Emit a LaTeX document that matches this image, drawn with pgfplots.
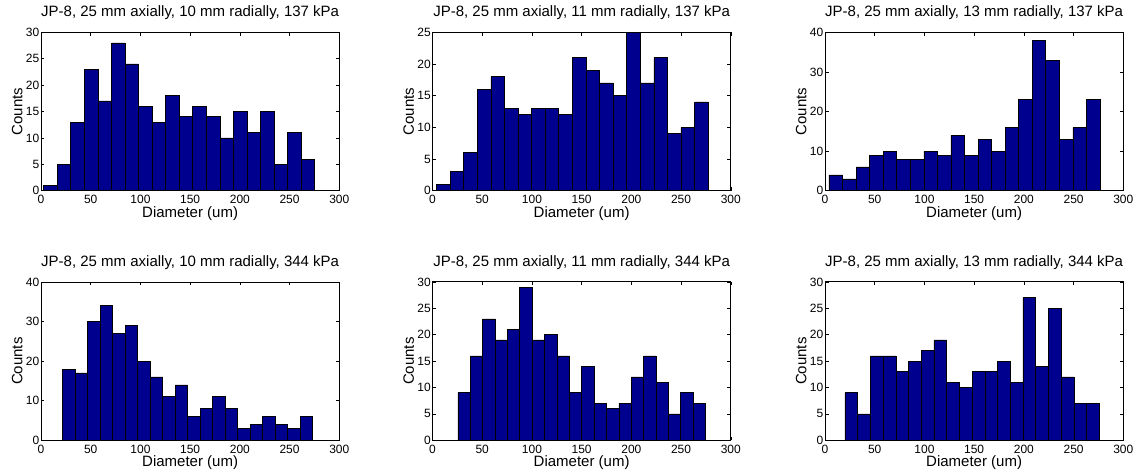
\documentclass[border=0pt]{standalone}
\usepackage{fontspec}
\setmainfont{Liberation Sans}
\usepackage{pgfplots}
\pgfplotsset{compat=1.18}
\definecolor{matblue}{RGB}{0,0,143}
\pgfplotsset{hstyle/.style={
  scale only axis, width=298.3pt, height=158.4pt,
  anchor=south west,
  xmin=0, xmax=300, ymin=0,
  xtick={0,50,...,300},
  tick align=inside, major tick length=3.5pt,
  axis line style={line width=0.8pt},
  every tick/.style={line width=0.6pt, black},
  /pgf/number format/assume math mode=true,
  ticklabel style={font=\fontsize{12}{12}\selectfont},
  xticklabel style={anchor=base, yshift=-13pt, inner sep=0pt},
  yticklabel style={anchor=east, xshift=-1.5pt, inner sep=0pt},
  xlabel={Diameter (um)},
  ylabel={Counts},
  xlabel style={font=\fontsize{15}{15}\selectfont, at={(axis description cs:0.5,-0.1673)}, anchor=base, inner sep=0pt},
  ylabel style={font=\fontsize{15}{15}\selectfont, at={(axis description cs:-0.0627,0.5)}, anchor=base, inner sep=0pt},
  title style={font=\fontsize{15}{15}\selectfont, at={(axis description cs:0.5,1.06)}, anchor=base, inner sep=0pt},
}}
\begin{document}
\begin{tikzpicture}
\path[use as bounding box] (0,0) rectangle (1136pt,472pt);
% Row 1
\begin{axis}[hstyle, at={(41pt,281.3pt)}, ymax=30, ytick={0,5,...,30},
  title={JP-8, 25 mm axially, 10 mm radially, 137 kPa}]
\addplot[ybar interval, fill=matblue, draw=black, line width=0.6pt] coordinates {
(2.70,1) (16.33,5) (29.95,13) (43.58,23) (57.20,17) (70.83,28) (84.45,24) (98.08,16) (111.70,13) (125.33,18)
(138.95,14) (152.58,16) (166.20,14) (179.83,10) (193.45,15) (207.08,11) (220.70,15) (234.33,5) (247.95,11) (261.58,6) (275.20,0)};
\end{axis}
\begin{axis}[hstyle, at={(432.5pt,281.3pt)}, ymax=25, ytick={0,5,...,25},
  title={JP-8, 25 mm axially, 11 mm radially, 137 kPa}]
\addplot[ybar interval, fill=matblue, draw=black, line width=0.6pt] coordinates {
(4.00,1) (17.66,3) (31.32,6) (44.98,16) (58.64,18) (72.30,13) (85.96,12) (99.62,13) (113.28,13) (126.94,12)
(140.60,21) (154.26,19) (167.92,17) (181.58,15) (195.24,25) (208.90,17) (222.56,21) (236.22,9) (249.88,10) (263.54,14) (277.20,0)};
\end{axis}
\begin{axis}[hstyle, at={(825pt,281.3pt)}, ymax=40, ytick={0,10,...,40},
  title={JP-8, 25 mm axially, 13 mm radially, 137 kPa}]
\addplot[ybar interval, fill=matblue, draw=black, line width=0.6pt] coordinates {
(4.00,4) (17.63,3) (31.25,6) (44.88,9) (58.50,10) (72.13,8) (85.75,8) (99.38,10) (113.00,9) (126.63,14)
(140.25,9) (153.88,13) (167.50,10) (181.13,16) (194.75,23) (208.38,38) (222.00,33) (235.63,13) (249.25,16) (262.88,23) (276.50,0)};
\end{axis}
% Row 2
\begin{axis}[hstyle, at={(41pt,31.7pt)}, ymax=40, ytick={0,10,...,40},
  title={JP-8, 25 mm axially, 10 mm radially, 344 kPa}]
\addplot[ybar interval, fill=matblue, draw=black, line width=0.6pt] coordinates {
(21.80,18) (34.37,17) (46.94,30) (59.51,34) (72.08,27) (84.65,29) (97.22,20) (109.79,16) (122.36,11) (134.93,14)
(147.50,6) (160.07,8) (172.64,11) (185.21,8) (197.78,3) (210.35,4) (222.92,6) (235.49,4) (248.06,3) (260.63,6) (273.20,0)};
\end{axis}
\begin{axis}[hstyle, at={(432.5pt,31.7pt)}, ymax=30, ytick={0,5,...,30},
  title={JP-8, 25 mm axially, 11 mm radially, 344 kPa}]
\addplot[ybar interval, fill=matblue, draw=black, line width=0.6pt] coordinates {
(25.50,9) (37.96,16) (50.41,23) (62.87,19) (75.32,21) (87.78,29) (100.23,19) (112.69,20) (125.14,16) (137.60,9)
(150.05,14) (162.51,7) (174.96,6) (187.42,7) (199.87,12) (212.33,16) (224.78,11) (237.24,5) (249.69,9) (262.15,7) (274.60,0)};
\end{axis}
\begin{axis}[hstyle, at={(825pt,31.7pt)}, ymax=30, ytick={0,5,...,30},
  title={JP-8, 25 mm axially, 13 mm radially, 344 kPa}]
\addplot[ybar interval, fill=matblue, draw=black, line width=0.6pt] coordinates {
(20.10,9) (32.89,5) (45.67,16) (58.46,16) (71.24,13) (84.03,15) (96.81,17) (109.60,19) (122.38,11) (135.17,10)
(147.95,13) (160.74,13) (173.52,15) (186.31,11) (199.09,27) (211.88,14) (224.66,25) (237.45,12) (250.23,7) (263.02,7) (275.80,0)};
\end{axis}
\end{tikzpicture}
\end{document}
